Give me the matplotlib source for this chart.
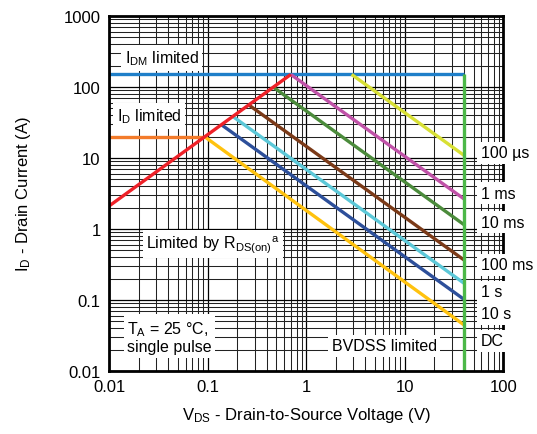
import numpy as np
import matplotlib
matplotlib.use('Agg')
import matplotlib.pyplot as plt

plt.rcParams['font.family'] = ['Liberation Sans', 'DejaVu Sans']
plt.rcParams['mathtext.default'] = 'regular'

# limits
bvdss = 40.0
idm = 150.0
id_lim = 20.0
rds_v = [0.01, 0.7]
rds_i = [2.1, 150.0]
id_v = [0.01, 0.093]

# power limited pulse lines: start (V, I) and current at BVDSS
pulse_names = ['100 µs', '1 ms', '10 ms', '100 ms', '1 s', '10 s', 'DC']
pulse_v0 = [2.9, 0.7, 0.466, 0.266, 0.18, 0.139, 0.093]
pulse_i0 = [150.0, 150.0, 99.0, 55.0, 38.5, 29.2, 20.0]
pulse_i1 = [10.9, 2.65, 1.15, 0.366, 0.172, 0.102, 0.0445]
pulse_colors = ['#d8e034', '#c052a8', '#4b8b3b', '#7b3a18', '#5cc8d8', '#2d4f9a', '#ffc20e']
label_y = [11.8, 3.2, 1.25, 0.314, 0.131, 0.0635, 0.0267]

fig = plt.figure(figsize=(5.37, 4.35), dpi=100)
ax = fig.add_axes([0.203, 0.145, 0.734, 0.816])
ax.set_xscale('log')
ax.set_yscale('log')
ax.set_xlim(0.01, 100)
ax.set_ylim(0.01, 1000)

ax.grid(True, which='major', color='black', linewidth=0.9)
ax.grid(True, which='minor', color='#222222', linewidth=0.75)
ax.set_axisbelow(True)

lw = 2.4
ax.plot([0.01, bvdss], [idm, idm], color='#1f7fc9', lw=lw, solid_capstyle='butt')
ax.plot(id_v, [id_lim, id_lim], color='#f37b2a', lw=lw, solid_capstyle='butt')
for v0, i0, i1, c in zip(pulse_v0, pulse_i0, pulse_i1, pulse_colors):
    ax.plot([v0, bvdss], [i0, i1], color=c, lw=lw, solid_capstyle='butt')
ax.plot(rds_v, rds_i, color='#ee2128', lw=lw, solid_capstyle='butt')
ax.plot([bvdss, bvdss], [0.01, idm], color='#4cb848', lw=lw, solid_capstyle='butt')

box = dict(facecolor='white', edgecolor='none', pad=2.5)
fs = 11.5
for name, y in zip(pulse_names, label_y):
    ax.text(59, y, name, fontsize=fs, va='center', ha='left', bbox=box,
            clip_on=False, zorder=10)

ax.text(0.0145, 256, r'I$_{DM}$ limited', fontsize=fs, va='center', bbox=box, zorder=10)
ax.text(0.012, 39, r'I$_{D}$ limited', fontsize=fs, va='center', bbox=box, zorder=10)
ax.text(0.0238, 0.615, r'Limited by R$_{DS(on)}$$^{a}$', fontsize=fs, va='center',
        bbox=box, zorder=10)
ax.text(0.0153, 0.0302, 'T$_{A}$ = 25 °C,\nsingle pulse', fontsize=fs, va='center',
        linespacing=1.1, bbox=box, zorder=10)
ax.text(1.82, 0.0227, 'BVDSS limited', fontsize=fs, va='center', bbox=box, zorder=10)

ax.set_xticks([0.01, 0.1, 1, 10, 100])
ax.set_xticklabels(['0.01', '0.1', '1', '10', '100'])
ax.set_yticks([0.01, 0.1, 1, 10, 100, 1000])
ax.set_yticklabels(['0.01', '0.1', '1', '10', '100', '1000'])
ax.tick_params(which='both', direction='in', labelsize=12)
ax.tick_params(which='major', length=0, pad=6)
ax.tick_params(which='minor', length=0)

for s in ax.spines.values():
    s.set_linewidth(2)
    s.set_zorder(5)

ax.set_xlabel(r'V$_{DS}$ - Drain-to-Source Voltage (V)', fontsize=12, labelpad=8)
ax.set_ylabel(r'I$_{D}$ - Drain Current (A)', fontsize=12, labelpad=22)

fig.savefig('out.png', dpi=100)
